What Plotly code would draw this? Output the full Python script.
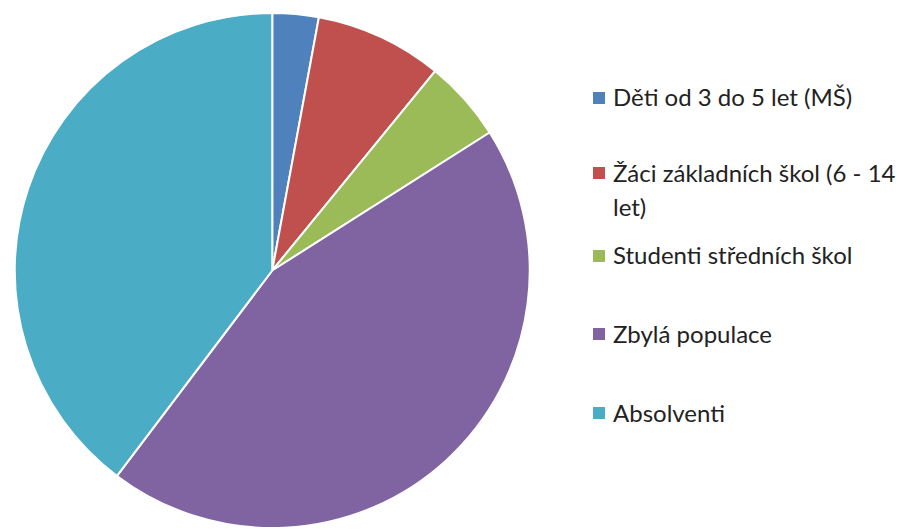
import plotly.graph_objects as go

labels = ["Děti od 3 do 5 let (MŠ)", "Žáci základních škol (6 - 14 let)",
          "Studenti středních škol", "Zbylá populace", "Absolventi"]
values = [2.9, 8.0, 5.1, 44.3, 39.7]
colors = ["#4F81BD", "#C0504D", "#9BBB59", "#8064A2", "#4BACC6"]
legend_lines = [["Děti od 3 do 5 let (MŠ)"],
                ["Žáci základních škol (6 - 14", "let)"],
                ["Studenti středních škol"],
                ["Zbylá populace"],
                ["Absolventi"]]

W, H = 905, 531
OFF = 8  # page body margin offset
FONT = "Lato"

fig = go.Figure(go.Pie(
    labels=labels, values=values, sort=False, direction="clockwise", rotation=0,
    marker=dict(colors=colors, line=dict(color="white", width=2)),
    textinfo="none", showlegend=False,
    domain=dict(x=[(14.5 - OFF) / W, (530 - OFF) / W],
                y=[1 - (528 - OFF) / H, 1 - (13 - OFF) / H]),
))

# custom legend (Excel-style spacing)
item_y = [97, 172, 255, 333, 412]
line_gap = 34
sq = 12
sq_x = 593
txt_x = 611
shapes = []
annotations = []
for i, (lines, col) in enumerate(zip(legend_lines, colors)):
    y0 = item_y[i] - OFF
    shapes.append(dict(type="rect", xref="paper", yref="paper",
                       x0=(sq_x - OFF) / W, x1=(sq_x - OFF + sq) / W,
                       y0=1 - (y0 + 1 + sq / 2) / H, y1=1 - (y0 + 1 - sq / 2) / H,
                       fillcolor=col, line=dict(width=0)))
    for j, t in enumerate(lines):
        annotations.append(dict(text=t, xref="paper", yref="paper",
                                x=(txt_x - OFF) / W, y=1 - (y0 + j * line_gap) / H,
                                xanchor="left", yanchor="middle", showarrow=False,
                                font=dict(family=FONT, size=24, color="#222222")))

fig.update_layout(width=W, height=H, margin=dict(l=0, r=0, t=0, b=0),
                  paper_bgcolor="white", plot_bgcolor="white",
                  shapes=shapes, annotations=annotations,
                  font=dict(family=FONT))
fig.write_html("out.html")
